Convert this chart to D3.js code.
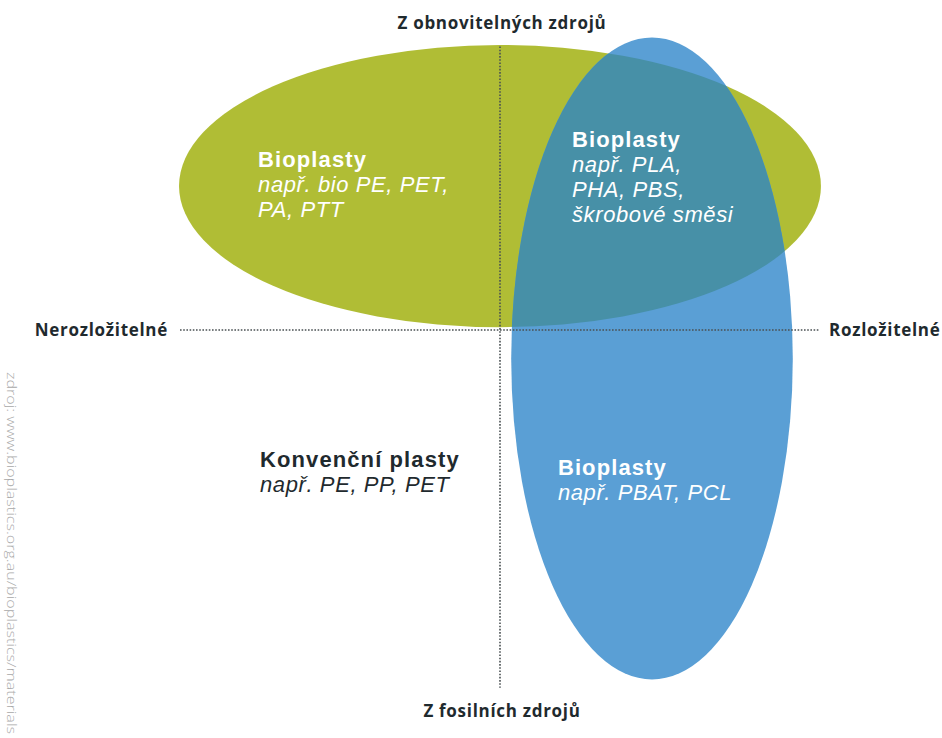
<!DOCTYPE html>
<html>
<head>
<meta charset="utf-8">
<script src="https://cdn.jsdelivr.net/npm/d3@7"></script>
<style>
  body { margin: 0; background: #fff; }
  svg { display: block; font-family: 'Open Sans', 'Noto Sans', sans-serif; }
</style>
</head>
<body>
<svg id="chart"></svg>
<script>
const width = 942;
const height = 738;

// axis labels: degradability (x), origin (y)
const xLabels = ['Nerozložitelné', 'Rozložitelné'];
const yLabels = ['Z fosilních zdrojů', 'Z obnovitelných zdrojů'];
const xAxisExtent = [-1, 1];
const yAxisExtent = [-1.255, 0.995];

// ellipses in data units: centre and radii
const groupNames = ['bioBased', 'biodegradable'];
const groupCx = [0.0, 0.475];
const groupCy = [0.505, -0.1];
const groupRx = [1.003, 0.44];
const groupRy = [0.495, 1.126];
const groupColors = ['#b0bd35', '#5a9fd5'];
const overlapColor = '#4790a7';

// quadrant labels
const labelTitles = ['Bioplasty', 'Bioplasty', 'Bioplasty', 'Konvenční plasty'];
const labelLines = [
  ['např. bio PE, PET,', 'PA, PTT'],
  ['např. PLA,', 'PHA, PBS,', 'škrobové směsi'],
  ['např. PBAT, PCL'],
  ['např. PE, PP, PET']
];
const labelX = [-0.756, 0.225, 0.181, -0.75];
const labelY = [0.572, 0.642, -0.509, -0.481];
const labelDark = [false, false, false, true];

const sourceText = 'zdroj: www.bioplastics.org.au/bioplastics/materials';

const svg = d3.select('#chart').attr('width', width).attr('height', height);

// x: -1..1 across the horizontal axis, y: 0 at the horizontal axis
const xScale = d3.scaleLinear().domain([-1, 1]).range([180, 820]);
const yScale = d3.scaleLinear().domain([0, 1]).range([330, 45]);
const rxScale = d3.scaleLinear().domain([0, 1]).range([0, 320]);
const ryScale = d3.scaleLinear().domain([0, 1]).range([0, 285]);

const groups = groupNames.map((name, i) => ({
  name: name,
  cx: groupCx[i],
  cy: groupCy[i],
  rx: groupRx[i],
  ry: groupRy[i],
  color: groupColors[i]
}));

// Draw the two ellipses
svg
  .selectAll('.group')
  .data(groups)
  .enter()
  .append('ellipse')
  .attr('class', 'group')
  .attr('cx', (d) => xScale(d.cx))
  .attr('cy', (d) => yScale(d.cy))
  .attr('rx', (d) => rxScale(d.rx))
  .attr('ry', (d) => ryScale(d.ry))
  .attr('fill', (d) => d.color);

// Overlap: second ellipse clipped by the first
const defs = svg.append('defs');
defs
  .append('clipPath')
  .attr('id', 'clipFirst')
  .append('ellipse')
  .attr('cx', xScale(groups[0].cx))
  .attr('cy', yScale(groups[0].cy))
  .attr('rx', rxScale(groups[0].rx))
  .attr('ry', ryScale(groups[0].ry));

svg
  .append('ellipse')
  .attr('clip-path', 'url(#clipFirst)')
  .attr('cx', xScale(groups[1].cx))
  .attr('cy', yScale(groups[1].cy))
  .attr('rx', rxScale(groups[1].rx))
  .attr('ry', ryScale(groups[1].ry))
  .attr('fill', overlapColor);

// Dotted axes
const axisColor = '#4a5053';
svg
  .append('line')
  .attr('x1', xScale(xAxisExtent[0]))
  .attr('x2', xScale(xAxisExtent[1]))
  .attr('y1', yScale(0))
  .attr('y2', yScale(0))
  .attr('stroke', axisColor)
  .attr('stroke-width', 1.6)
  .attr('stroke-dasharray', '1.6,1.6');

svg
  .append('line')
  .attr('x1', xScale(0))
  .attr('x2', xScale(0))
  .attr('y1', yScale(yAxisExtent[1]))
  .attr('y2', yScale(yAxisExtent[0]))
  .attr('stroke', axisColor)
  .attr('stroke-width', 1.6)
  .attr('stroke-dasharray', '1.6,1.6');

// Axis end labels
const textDark = '#1f2a2e';
const axisFont = '17px';
const axisSpacing = '0.7px';
svg
  .append('text')
  .attr('x', xScale(xAxisExtent[0]) - 12)
  .attr('y', yScale(0) + 6)
  .attr('text-anchor', 'end')
  .attr('font-weight', 700)
  .attr('font-size', axisFont)
  .attr('letter-spacing', axisSpacing)
  .attr('fill', textDark)
  .text(xLabels[0]);

svg
  .append('text')
  .attr('x', xScale(xAxisExtent[1]) + 9)
  .attr('y', yScale(0) + 6)
  .attr('font-weight', 700)
  .attr('font-size', axisFont)
  .attr('letter-spacing', axisSpacing)
  .attr('fill', textDark)
  .text(xLabels[1]);

svg
  .append('text')
  .attr('x', xScale(0) + 2)
  .attr('y', yScale(yAxisExtent[1]) - 17)
  .attr('text-anchor', 'middle')
  .attr('font-weight', 700)
  .attr('font-size', axisFont)
  .attr('letter-spacing', axisSpacing)
  .attr('fill', textDark)
  .text(yLabels[1]);

svg
  .append('text')
  .attr('x', xScale(0) + 2)
  .attr('y', yScale(yAxisExtent[0]) + 29)
  .attr('text-anchor', 'middle')
  .attr('font-weight', 700)
  .attr('font-size', axisFont)
  .attr('letter-spacing', axisSpacing)
  .attr('fill', textDark)
  .text(yLabels[0]);

// Quadrant labels (tighter font so the 25px leading does not collide)
const lineGap = 25;
labelTitles.forEach((title, i) => {
  const fill = labelDark[i] ? textDark : '#ffffff';
  const t = svg
    .append('text')
    .attr('x', xScale(labelX[i]))
    .attr('y', yScale(labelY[i]))
    .attr('font-family', "'Liberation Sans', Arial, sans-serif")
    .attr('font-size', '22px')
    .attr('fill', fill);
  t.append('tspan')
    .attr('font-weight', 700)
    .attr('letter-spacing', '1.1px')
    .text(title);
  labelLines[i].forEach((line) => {
    t.append('tspan')
      .attr('x', xScale(labelX[i]))
      .attr('dy', lineGap)
      .attr('font-style', 'italic')
      .attr('font-weight', 400)
      .attr('letter-spacing', '0.6px')
      .text(line);
  });
});

// Source note, rotated along the left edge
svg
  .append('text')
  .attr('transform', 'translate(7, 372) rotate(90)')
  .attr('font-size', '12px')
  .attr('font-weight', 300)
  .attr('fill', '#a8a8a8')
  .attr('textLength', 362)
  .attr('lengthAdjust', 'spacingAndGlyphs')
  .text(sourceText);
</script>
</body>
</html>
